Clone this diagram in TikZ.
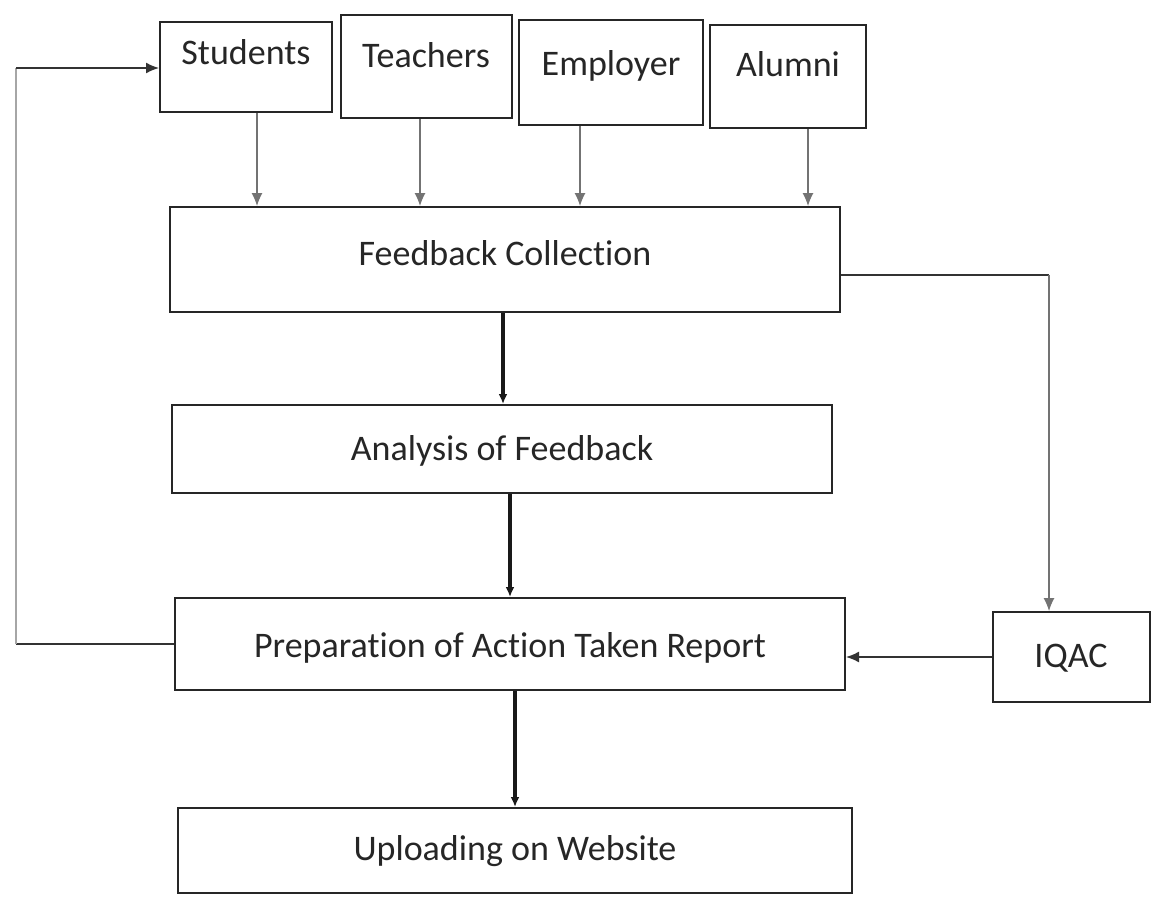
\documentclass[tikz,border=0pt]{standalone}
\usepackage{fontspec}
\setmainfont[Ligatures={NoCommon}]{Carlito}
\usetikzlibrary{arrows.meta}
\begin{document}
\begin{tikzpicture}[x=1pt,y=-1pt,
  box/.style={draw=black!85, line width=2pt, inner sep=0pt, anchor=base, align=center,
    font=\fontsize{36}{40}\selectfont, text=black!85},
  thin/.style={line width=1.1pt, draw=black!55, -{Latex[length=13pt,width=11pt]}},
  thinh/.style={line width=1.6pt, draw=black!80, -{Latex[length=13pt,width=11pt]}},
  thick/.style={line width=3.4pt, draw=black!90, -{Latex[length=10pt,width=9pt]}},
  plain/.style={line width=1.6pt, draw=black!80}]
\useasboundingbox (0,0) rectangle (1157,907);
% top boxes
\node[box, minimum width=172, text height=43, text depth=47] (stu) at (246,65) {Students};
\node[box, minimum width=171, text height=53, text depth=50] (tea) at (426,68) {Teachers};
\node[box, minimum width=184, text height=55, text depth=50] (emp) at (611,75) {Employer};
\node[box, minimum width=156, text height=52, text depth=51] (alu) at (788,77) {Alumni};
% main column
\node[box, minimum width=670, text height=58, text depth=47] (fc) at (505,265) {Feedback Collection};
\node[box, minimum width=660, text height=55, text depth=33] (ana) at (502,460) {Analysis of Feedback};
\node[box, minimum width=670, text height=59, text depth=33] (prep) at (510,657) {Preparation of Action Taken Report};
\node[box, minimum width=674, text height=52, text depth=33] (up) at (515,860) {Uploading on Website};
\node[box, minimum width=157, text height=55, text depth=35] (iqac) at (1071,667) {IQAC};
% arrows from stakeholders
\draw[thin] ([xshift=11]stu.south) -- ([xshift=11]stu.south |- fc.north);
\draw[thin] ([xshift=-6]tea.south) -- ([xshift=-6]tea.south |- fc.north);
\draw[thin] ([xshift=-31]emp.south) -- ([xshift=-31]emp.south |- fc.north);
\draw[thin] ([xshift=20]alu.south) -- ([xshift=20]alu.south |- fc.north);
% main flow
\draw[thick] ([xshift=-2]fc.south) -- ([xshift=-2]fc.south |- ana.north);
\draw[thick] ([xshift=8]ana.south) -- ([xshift=8]ana.south |- prep.north);
\draw[thick] ([xshift=5]prep.south) -- ([xshift=5]prep.south |- up.north);
% IQAC branch
\coordinate (c1) at (1049,275);
\draw[plain] (fc.east |- c1) -- (c1);
\draw[thin] (c1) -- (c1 |- iqac.north);
\draw[thinh] (iqac.west) -- (prep.east |- iqac.west);
% feedback loop
\coordinate (c2) at (16,644);
\coordinate (c3) at (16,68);
\draw[plain] (prep.west |- c2) -- (c2);
\draw[line width=1.1pt, draw=black!35] (c2) -- (c3);
\draw[thinh] (c3) -- (stu.west |- c3);
\end{tikzpicture}
\end{document}
